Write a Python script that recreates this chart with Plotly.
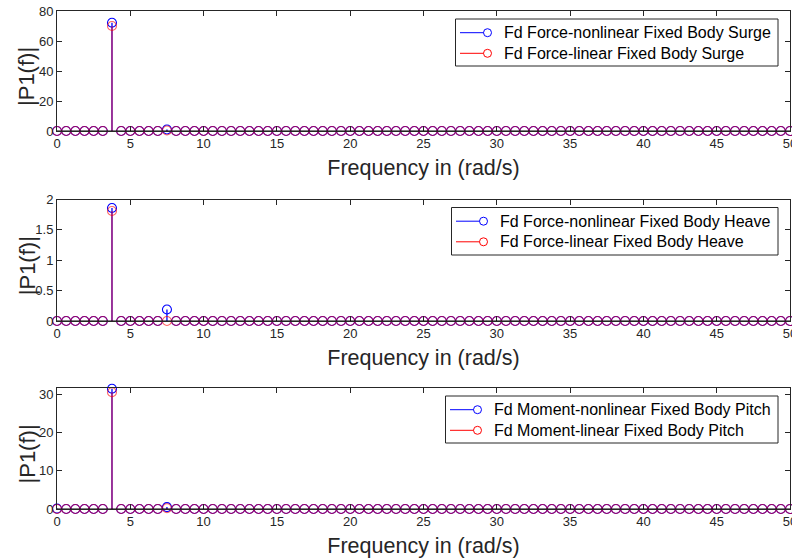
import plotly.graph_objects as go

# Frequency bins (rad/s)
freq = [0.0, 0.625, 1.25, 1.875, 2.5, 3.125, 3.75, 4.375, 5.0, 5.625,
        6.25, 6.875, 7.5, 8.125, 8.75, 9.375, 10.0, 10.625, 11.25, 11.875,
        12.5, 13.125, 13.75, 14.375, 15.0, 15.625, 16.25, 16.875, 17.5, 18.125,
        18.75, 19.375, 20.0, 20.625, 21.25, 21.875, 22.5, 23.125, 23.75, 24.375,
        25.0, 25.625, 26.25, 26.875, 27.5, 28.125, 28.75, 29.375, 30.0, 30.625,
        31.25, 31.875, 32.5, 33.125, 33.75, 34.375, 35.0, 35.625, 36.25, 36.875,
        37.5, 38.125, 38.75, 39.375, 40.0, 40.625, 41.25, 41.875, 42.5, 43.125,
        43.75, 44.375, 45.0, 45.625, 46.25, 46.875, 47.5, 48.125, 48.75, 49.375,
        50.0]

# Single-sided amplitude spectra |P1(f)|
surge_nonlinear = [0, 0, 0, 0, 0, 0, 72.2, 0, 0, 0, 0, 0, 1.0, 0, 0, 0, 0, 0, 0, 0,
                   0, 0, 0, 0, 0, 0, 0, 0, 0, 0, 0, 0, 0, 0, 0, 0, 0, 0, 0, 0,
                   0, 0, 0, 0, 0, 0, 0, 0, 0, 0, 0, 0, 0, 0, 0, 0, 0, 0, 0, 0,
                   0, 0, 0, 0, 0, 0, 0, 0, 0, 0, 0, 0, 0, 0, 0, 0, 0, 0, 0, 0, 0]
surge_linear = [0, 0, 0, 0, 0, 0, 70.0, 0, 0, 0, 0, 0, 0.3, 0, 0, 0, 0, 0, 0, 0,
                0, 0, 0, 0, 0, 0, 0, 0, 0, 0, 0, 0, 0, 0, 0, 0, 0, 0, 0, 0,
                0, 0, 0, 0, 0, 0, 0, 0, 0, 0, 0, 0, 0, 0, 0, 0, 0, 0, 0, 0,
                0, 0, 0, 0, 0, 0, 0, 0, 0, 0, 0, 0, 0, 0, 0, 0, 0, 0, 0, 0, 0]
heave_nonlinear = [0, 0, 0, 0, 0, 0, 1.86, 0, 0, 0, 0, 0, 0.19, 0, 0, 0, 0, 0, 0, 0,
                   0, 0, 0, 0, 0, 0, 0, 0, 0, 0, 0, 0, 0, 0, 0, 0, 0, 0, 0, 0,
                   0, 0, 0, 0, 0, 0, 0, 0, 0, 0, 0, 0, 0, 0, 0, 0, 0, 0, 0, 0,
                   0, 0, 0, 0, 0, 0, 0, 0, 0, 0, 0, 0, 0, 0, 0, 0, 0, 0, 0, 0, 0]
heave_linear = [0, 0, 0, 0, 0, 0, 1.81, 0, 0, 0, 0, 0, 0.0, 0, 0, 0, 0, 0, 0, 0,
                0, 0, 0, 0, 0, 0, 0, 0, 0, 0, 0, 0, 0, 0, 0, 0, 0, 0, 0, 0,
                0, 0, 0, 0, 0, 0, 0, 0, 0, 0, 0, 0, 0, 0, 0, 0, 0, 0, 0, 0,
                0, 0, 0, 0, 0, 0, 0, 0, 0, 0, 0, 0, 0, 0, 0, 0, 0, 0, 0, 0, 0]
pitch_nonlinear = [0.1, 0, 0, 0, 0, 0, 31.4, 0, 0, 0, 0, 0, 0.5, 0, 0, 0, 0, 0, 0, 0,
                   0, 0, 0, 0, 0, 0, 0, 0, 0, 0, 0, 0, 0, 0, 0, 0, 0, 0, 0, 0,
                   0, 0, 0, 0, 0, 0, 0, 0, 0, 0, 0, 0, 0, 0, 0, 0, 0, 0, 0, 0,
                   0, 0, 0, 0, 0, 0, 0, 0, 0, 0, 0, 0, 0, 0, 0, 0, 0, 0, 0, 0, 0]
pitch_linear = [0, 0, 0, 0, 0, 0, 30.5, 0, 0, 0, 0, 0, 0.2, 0, 0, 0, 0, 0, 0, 0,
                0, 0, 0, 0, 0, 0, 0, 0, 0, 0, 0, 0, 0, 0, 0, 0, 0, 0, 0, 0,
                0, 0, 0, 0, 0, 0, 0, 0, 0, 0, 0, 0, 0, 0, 0, 0, 0, 0, 0, 0,
                0, 0, 0, 0, 0, 0, 0, 0, 0, 0, 0, 0, 0, 0, 0, 0, 0, 0, 0, 0, 0]

panels = [
    ("Surge", "Force", surge_nonlinear, surge_linear, [0, 80], [0, 20, 40, 60, 80]),
    ("Heave", "Force", heave_nonlinear, heave_linear, [0, 2], [0, 0.5, 1, 1.5, 2]),
    ("Pitch", "Moment", pitch_nonlinear, pitch_linear, [0, 31.6], [0, 10, 20, 30]),
]

x_ticks = [0, 5, 10, 15, 20, 25, 30, 35, 40, 45, 50]
x_title = "Frequency in (rad/s)"
y_title = "|P1(f)|"

W, H = 792, 560
# plot areas in pixels: (top, bottom)
rows_px = [(11, 131), (199.5, 321), (388, 509)]
left_px, right_px = 57, 790
# legend boxes in pixels: (left, top, right, bottom)
legend_px = [(455.5, 19, 778, 66), (451.5, 207.5, 778, 255), (445.5, 396, 778, 443)]

BLUE = "rgb(0,0,255)"
RED = "rgb(255,0,0)"
RED_OPACITY = 0.6
AXC = "#262626"
FONT = "Liberation Sans, Arial, Helvetica, sans-serif"


def px_x(p):
    return p / W


def px_y(p):
    return 1 - p / H


def stem_xy(xs, ys):
    sx, sy = [], []
    for xv, yv in zip(xs, ys):
        sx += [xv, xv, None]
        sy += [0, yv, None]
    return sx, sy


fig = go.Figure()
shapes = []
annotations = []

for i, (dof, kind, nl, lin, yr, yt) in enumerate(panels):
    n = i + 1
    xa = "x" if n == 1 else f"x{n}"
    ya = "y" if n == 1 else f"y{n}"
    for vals, col, op in ((nl, BLUE, 1.0), (lin, RED, RED_OPACITY)):
        sx, sy = stem_xy(freq, vals)
        fig.add_trace(go.Scatter(x=sx, y=sy, mode="lines", xaxis=xa, yaxis=ya,
                                 line=dict(color=col, width=1.3), opacity=op,
                                 showlegend=False, hoverinfo="skip", cliponaxis=False))
        fig.add_trace(go.Scatter(x=freq, y=vals, mode="markers", xaxis=xa, yaxis=ya,
                                 marker=dict(symbol="circle-open", size=9, color=col,
                                             line=dict(width=1.1, color=col)),
                                 opacity=op, showlegend=False, cliponaxis=False))
    # stem baseline
    shapes.append(dict(type="line", xref=f"{xa} domain", yref=ya, x0=0, x1=1, y0=0, y1=0,
                       line=dict(color="black", width=1), layer="above"))

    top, bot = rows_px[i]
    axis_common = dict(showline=True, linecolor=AXC, linewidth=1, mirror="ticks",
                       ticks="inside", ticklen=5, tickcolor=AXC, tickwidth=1,
                       showgrid=False, zeroline=False, automargin=False,
                       ticklabeloverflow="allow",
                       tickfont=dict(family=FONT, size=13, color=AXC))
    fig.update_layout({
        ("xaxis" if n == 1 else f"xaxis{n}"): dict(
            domain=[px_x(left_px), px_x(right_px)], range=[0, 50], tickvals=x_ticks,
            anchor=ya,
            title=dict(text=x_title, font=dict(family=FONT, size=21.5, color=AXC),
                       standoff=10),
            **axis_common),
        ("yaxis" if n == 1 else f"yaxis{n}"): dict(
            domain=[px_y(bot), px_y(top)], range=yr, tickvals=yt, anchor=xa,
            **axis_common),
    })

    # y-axis title, rotated
    annotations.append(dict(text=y_title, xref="paper", yref="paper",
                            x=px_x(27), y=px_y((top + bot) / 2 + 5),
                            xanchor="center", yanchor="middle", textangle=-90,
                            showarrow=False,
                            font=dict(family=FONT, size=22, color=AXC)))

    # legend box
    l, t, r, b = legend_px[i]
    shapes.append(dict(type="rect", xref="paper", yref="paper",
                       x0=px_x(l), x1=px_x(r), y0=px_y(b), y1=px_y(t),
                       line=dict(color=AXC, width=1), fillcolor="white", layer="above"))
    labels = [f"Fd {kind}-nonlinear Fixed Body {dof}", f"Fd {kind}-linear Fixed Body {dof}"]
    for j, (lab, col) in enumerate(zip(labels, (BLUE, RED))):
        ry = t + 13.7 + 20.6 * j
        shapes.append(dict(type="line", xref="paper", yref="paper",
                           x0=px_x(l + 4.5), x1=px_x(l + 28), y0=px_y(ry), y1=px_y(ry),
                           line=dict(color=col, width=1), layer="above"))
        shapes.append(dict(type="circle", xref="paper", yref="paper",
                           x0=px_x(l + 28), x1=px_x(l + 36), y0=px_y(ry + 4), y1=px_y(ry - 4),
                           line=dict(color=col, width=1), fillcolor="rgba(0,0,0,0)",
                           layer="above"))
        annotations.append(dict(text=lab, xref="paper", yref="paper",
                                x=px_x(l + 46), y=px_y(ry), xanchor="left", yanchor="middle",
                                showarrow=False,
                                font=dict(family=FONT, size=16, color="black")))

fig.update_layout(width=W, height=H, margin=dict(l=0, r=0, t=0, b=0),
                  paper_bgcolor="white", plot_bgcolor="white",
                  shapes=shapes, annotations=annotations, showlegend=False)

fig.write_html("out.html")
